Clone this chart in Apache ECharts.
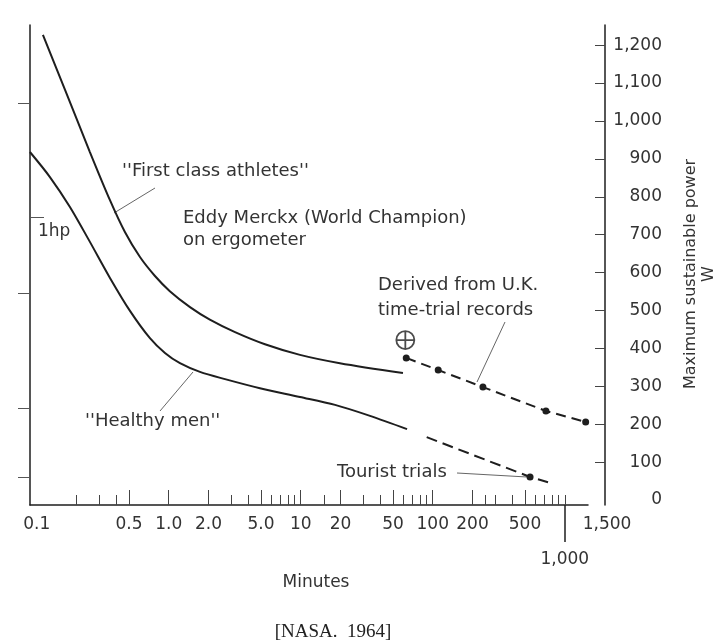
<!DOCTYPE html>
<html>
<head>
<meta charset="utf-8">
<script src="https://cdn.jsdelivr.net/npm/echarts@6/dist/echarts.min.js"></script>
<style>
  html, body { margin: 0; padding: 0; background: #fff; }
  #chart { width: 727px; height: 641px; }
</style>
</head>
<body>
<div id="chart"></div>
<script>
// ---- data ----
const upperMinutes = [0.1115, 0.164, 0.253, 0.359, 0.466, 0.606, 0.787, 1.02, 1.45, 2.05, 3.18, 5.36, 9.87, 19.8, 59.5];
const upperWatts   = [1227, 1082, 918, 791, 707, 641, 591, 551, 509, 476, 443, 411, 383, 361, 335];

const lowerMinutes = [0.0889, 0.126, 0.1786, 0.253, 0.359, 0.509, 0.721, 0.937, 1.217, 1.725, 2.67, 4.91, 9.87, 18.2, 33.5, 63.9];
const lowerWatts   = [918, 852, 773, 681, 586, 499, 427, 388, 361, 338, 319, 295, 272, 251, 222, 187];

const timeTrialMinutes = [63, 110, 240, 720, 1440];
const timeTrialWatts   = [375, 343, 298, 235, 206];

const touristMinutes = [90, 546, 747];
const touristWatts   = [166, 61, 47];
const touristDotIndex = 1;

const merckxMinutes = [62];
const merckxWatts   = [422];

const xLabelValues = [0.1, 0.5, 1, 2, 5, 10, 20, 50, 100, 200, 500, 1500];
const xLabelTexts  = ['0.1', '0.5', '1.0', '2.0', '5.0', '10', '20', '50', '100', '200', '500', '1,500'];
const xMajorTicks  = [0.5, 1, 2, 5, 10, 20, 50, 100, 200, 500];
const xMinorTicks  = [0.2, 0.3, 0.4, 0.5, 1, 2, 3, 4, 5, 6, 7, 8, 9, 10, 15, 20, 30, 40, 50, 60, 70, 80, 90, 100, 200, 250, 300, 400, 500, 600, 700, 800, 900, 1000];
const xLongTick    = [1000];
const xLongLabel   = ['1,000'];

const yTickValues  = [100, 200, 300, 400, 500, 600, 700, 800, 900, 1000, 1100, 1200];
const yLabelValues = [0, 100, 200, 300, 400, 500, 600, 700, 800, 900, 1000, 1100, 1200];
const leftTicks    = [61, 243, 546, 1047];
const hpTick       = [746];

// ---- build ----
const pairs = (xs, ys) => xs.map((x, i) => [x, ys[i]]);
const INK = '#1e1e1e';
const TXT = '#333';
const FONT = 'DejaVu Sans';
const X_MIN = 0.089, X_MAX = 1500, Y_MIN = -13, Y_MAX = 1253;

function xLabelFmt(v) {
  for (let i = 0; i < xLabelValues.length; i++) {
    if (Math.abs(v - xLabelValues[i]) / xLabelValues[i] < 0.01) {
      return xLabelValues[i] === 1500 ? '{shift|' + xLabelTexts[i] + '}' : xLabelTexts[i];
    }
  }
  return '';
}

const baseX = {
  type: 'log', logBase: 10, min: X_MIN, max: X_MAX, gridIndex: 0, position: 'bottom',
  splitLine: { show: false }, minorTick: { show: false }, minorSplitLine: { show: false }
};
const baseY = {
  type: 'value', min: Y_MIN, max: Y_MAX, gridIndex: 0, splitLine: { show: false }
};

const chart = echarts.init(document.getElementById('chart'), null, { renderer: 'canvas' });

const option = {
  animation: false,
  backgroundColor: '#fff',
  grid: { left: 30, right: 139, top: 25, bottom: 136, containLabel: false, outerBoundsMode: 'none' },
  xAxis: [
    Object.assign({}, baseX, {
      axisLine: { show: true, onZero: false, lineStyle: { color: INK, width: 1.5 } },
      axisTick: { show: true, inside: true, length: 10, customValues: xMinorTicks, lineStyle: { color: '#444', width: 1 } },
      axisLabel: {
        show: true, customValues: xLabelValues, margin: 11, color: TXT,
        fontFamily: FONT, fontSize: 17, formatter: xLabelFmt,
        rich: { shift: { padding: [0, 0, 0, 38], fontFamily: FONT, fontSize: 17, color: TXT } }
      }
    }),
    Object.assign({}, baseX, {
      axisLine: { show: false, onZero: false },
      axisTick: { show: true, inside: false, length: 37, customValues: xLongTick, lineStyle: { color: INK, width: 1.5 } },
      axisLabel: {
        show: true, customValues: xLongTick, margin: 46, color: TXT,
        fontFamily: FONT, fontSize: 17, formatter: () => xLongLabel[0]
      }
    }),
    Object.assign({}, baseX, {
      axisLine: { show: false, onZero: false },
      axisTick: { show: true, inside: true, length: 15, customValues: xMajorTicks, lineStyle: { color: '#444', width: 1 } },
      axisLabel: { show: false }
    })
  ],
  yAxis: [
    Object.assign({}, baseY, {
      position: 'right', offset: 17,
      axisLine: { show: true, onZero: false, lineStyle: { color: INK, width: 1.5 } },
      axisTick: { show: true, inside: true, length: 10, customValues: yTickValues, lineStyle: { color: '#444', width: 1 } },
      axisLabel: {
        show: true, customValues: yLabelValues, inside: false, margin: 57, align: 'right',
        color: TXT, fontFamily: FONT, fontSize: 17,
        formatter: v => Math.round(v).toLocaleString('en-US')
      }
    }),
    Object.assign({}, baseY, {
      position: 'left',
      axisLine: { show: true, onZero: false, lineStyle: { color: INK, width: 1.5 } },
      axisTick: { show: true, inside: false, length: 12, customValues: leftTicks, lineStyle: { color: '#555', width: 1 } },
      axisLabel: { show: false }
    }),
    Object.assign({}, baseY, {
      position: 'left',
      axisLine: { show: false, onZero: false },
      axisTick: { show: true, inside: true, length: 14, customValues: hpTick, lineStyle: { color: '#555', width: 1 } },
      axisLabel: { show: false }
    })
  ],
  series: [
    {
      name: 'First class athletes', type: 'line', xAxisIndex: 0, yAxisIndex: 0,
      data: pairs(upperMinutes, upperWatts), smooth: 0.3, symbol: 'none',
      lineStyle: { color: INK, width: 2 }
    },
    {
      name: 'Healthy men', type: 'line', xAxisIndex: 0, yAxisIndex: 0,
      data: pairs(lowerMinutes, lowerWatts), smooth: 0.3, symbol: 'none',
      lineStyle: { color: INK, width: 2 }
    },
    {
      name: 'U.K. time-trial records', type: 'line', xAxisIndex: 0, yAxisIndex: 0,
      data: pairs(timeTrialMinutes, timeTrialWatts), symbol: 'circle', symbolSize: 7, showSymbol: true,
      itemStyle: { color: INK },
      lineStyle: { color: INK, width: 2, type: [10, 6] }
    },
    {
      name: 'Tourist trials', type: 'line', xAxisIndex: 0, yAxisIndex: 0,
      data: touristMinutes.map((m, i) => ({ value: [m, touristWatts[i]], symbol: i === touristDotIndex ? 'circle' : 'none' })),
      symbol: 'circle', symbolSize: 7, showSymbol: true,
      itemStyle: { color: INK },
      lineStyle: { color: INK, width: 2, type: [11, 6] }
    },
    {
      name: 'Eddy Merckx', type: 'scatter', xAxisIndex: 0, yAxisIndex: 0,
      data: pairs(merckxMinutes, merckxWatts),
      symbol: 'path://M10 0A10 10 0 1 1 -10 0A10 10 0 1 1 10 0ZM-10 0L10 0M0 -10L0 10',
      symbolSize: 18,
      itemStyle: { color: 'rgba(0,0,0,0)', borderColor: INK, borderWidth: 1.8 }
    }
  ],
  graphic: [
    { type: 'text', x: 122, y: 171, style: { text: "''First class athletes''", fontFamily: FONT, fontSize: 18, fill: TXT, align: 'left', verticalAlign: 'middle' } },
    { type: 'line', shape: { x1: 155, y1: 188, x2: 114, y2: 213 }, style: { stroke: '#666', lineWidth: 1 } },
    { type: 'text', x: 183, y: 218, style: { text: 'Eddy Merckx (World Champion)', fontFamily: FONT, fontSize: 18, fill: TXT, align: 'left', verticalAlign: 'middle' } },
    { type: 'text', x: 183, y: 240, style: { text: 'on ergometer', fontFamily: FONT, fontSize: 18, fill: TXT, align: 'left', verticalAlign: 'middle' } },
    { type: 'text', x: 38, y: 232, style: { text: '1hp', fontFamily: FONT, fontSize: 17, fill: TXT, align: 'left', verticalAlign: 'middle' } },
    { type: 'text', x: 85, y: 421, style: { text: "''Healthy men''", fontFamily: FONT, fontSize: 18, fill: TXT, align: 'left', verticalAlign: 'middle' } },
    { type: 'line', shape: { x1: 160, y1: 411, x2: 193, y2: 372 }, style: { stroke: '#666', lineWidth: 1 } },
    { type: 'text', x: 378, y: 285, style: { text: 'Derived from U.K.', fontFamily: FONT, fontSize: 18, fill: TXT, align: 'left', verticalAlign: 'middle' } },
    { type: 'text', x: 378, y: 310, style: { text: 'time-trial records', fontFamily: FONT, fontSize: 18, fill: TXT, align: 'left', verticalAlign: 'middle' } },
    { type: 'line', shape: { x1: 505, y1: 322, x2: 477, y2: 382 }, style: { stroke: '#666', lineWidth: 1 } },
    { type: 'text', x: 337, y: 472, style: { text: 'Tourist trials', fontFamily: FONT, fontSize: 18, fill: TXT, align: 'left', verticalAlign: 'middle' } },
    { type: 'line', shape: { x1: 457, y1: 473, x2: 527, y2: 477 }, style: { stroke: '#666', lineWidth: 1 } },
    { type: 'text', x: 316, y: 583, style: { text: 'Minutes', fontFamily: FONT, fontSize: 17, fill: TXT, align: 'center', verticalAlign: 'middle' } },
    { type: 'text', x: 333, y: 632, style: { text: '[NASA.  1964]', fontFamily: 'Liberation Serif', fontSize: 19, fill: '#222', align: 'center', verticalAlign: 'middle' } },
    { type: 'text', x: 700, y: 274, rotation: Math.PI / 2, style: { text: 'Maximum sustainable power\nW', fontFamily: FONT, fontSize: 16, lineHeight: 18, fill: TXT, align: 'center', verticalAlign: 'middle' } }
  ]
};

chart.setOption(option);
</script>
</body>
</html>
